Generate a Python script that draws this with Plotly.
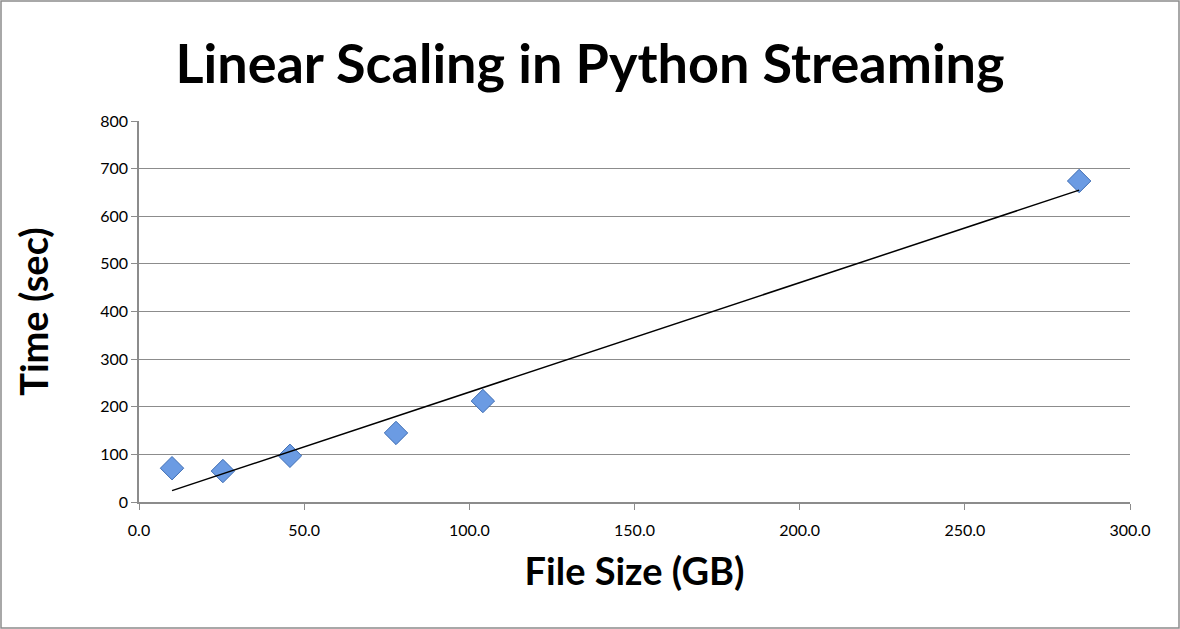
import numpy as np
import plotly.graph_objects as go

file_size_gb = [10.0, 25.4, 45.7, 77.8, 104.1, 284.6]
time_sec = [71, 65, 97, 145, 212, 674]

x_ticks = [0, 50, 100, 150, 200, 250, 300]
x_tick_labels = ["0.0", "50.0", "100.0", "150.0", "200.0", "250.0", "300.0"]
y_ticks = [0, 100, 200, 300, 400, 500, 600, 700, 800]

slope, intercept = np.polyfit(file_size_gb, time_sec, 1)
trend_x = [min(file_size_gb), max(file_size_gb)]
trend_y = [slope * v + intercept for v in trend_x]

W, H = 1180, 629
ml, mr, mt, mb = 139, 50, 121, 127
pw, ph = W - ml - mr, H - mt - mb

fig = go.Figure()
fig.add_trace(go.Scatter(
    x=file_size_gb, y=time_sec, mode="markers",
    marker=dict(symbol="diamond", size=18, color="#6b9be3",
                line=dict(color="#3e6db3", width=1)),
    showlegend=False, hoverinfo="x+y"))
fig.add_trace(go.Scatter(
    x=trend_x, y=trend_y, mode="lines",
    line=dict(color="black", width=1.5), showlegend=False))

fig.update_layout(
    width=W, height=H, margin=dict(l=ml, r=mr, t=mt, b=mb),
    paper_bgcolor="white", plot_bgcolor="white",
    font=dict(family="Lato, Open Sans, sans-serif", color="black"),
    title=dict(text="<b>Linear Scaling in Python Streaming</b>",
               x=0.5, xanchor="center", y=1 - 64 / H, yanchor="middle",
               font=dict(size=54, color="black")),
    xaxis=dict(range=[0, 300], tickvals=x_ticks, ticktext=x_tick_labels,
               showgrid=False, zeroline=False, showline=True, linecolor="#8c8c8c",
               linewidth=1.5, ticks="outside", ticklen=6, tickcolor="#8c8c8c",
               tickfont=dict(size=16), ticklabelstandoff=7,
               title=dict(text="<b>File Size (GB)</b>", font=dict(size=38), standoff=20)),
    yaxis=dict(range=[0, 800], tickvals=y_ticks,
               showgrid=True, gridcolor="#8c8c8c", gridwidth=1.2, zeroline=False,
               showline=True, linecolor="#8c8c8c", linewidth=1.5,
               ticks="outside", ticklen=6, tickcolor="#8c8c8c",
               tickfont=dict(size=16),
               title=dict(text="<b>Time (sec)</b>", font=dict(size=38), standoff=40)),
    shapes=[dict(type="rect", xref="paper", yref="paper",
                 x0=-(ml - 1) / pw, x1=1 + (mr - 1) / pw,
                 y0=-(mb - 1) / ph, y1=1 + (mt - 1) / ph,
                 line=dict(color="#8c8c8c", width=1.5), layer="below")],
)

fig.write_html("out.html")
